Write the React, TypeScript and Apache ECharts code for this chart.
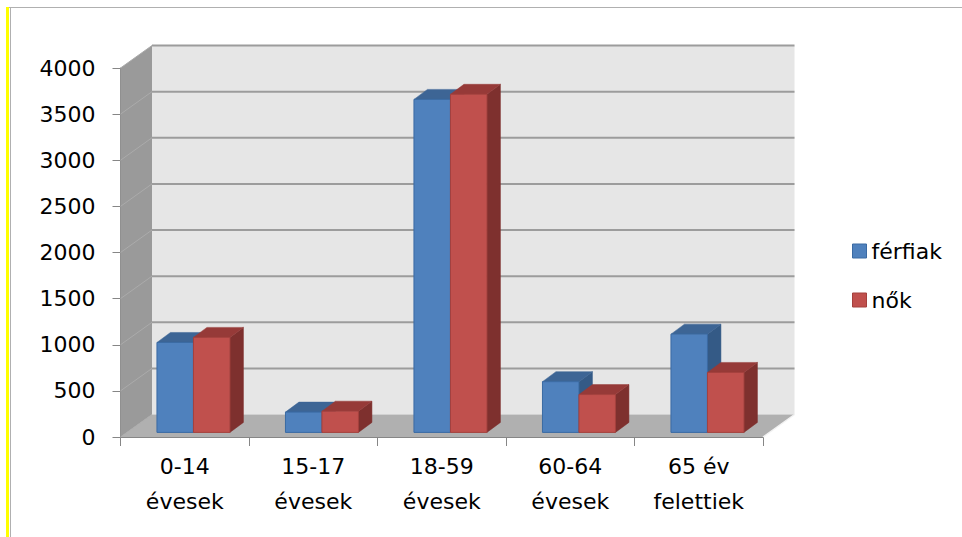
import React, { useEffect, useRef } from "react";
import * as echarts from "echarts";

const categories = ["0-14\névesek", "15-17\névesek", "18-59\névesek", "60-64\névesek", "65 év\nfelettiek"];
const ferfiak = [975, 220, 3610, 550, 1065];
const nok = [1030, 230, 3665, 410, 650];
const seriesNames = ["férfiak", "nők"];
const yMin = 0;
const yMax = 4000;
const yInterval = 500;
const yTicks = [0, 500, 1000, 1500, 2000, 2500, 3000, 3500, 4000];

const FONT = "DejaVu Sans";
const WALL_DX = 31.5;
const WALL_DY = -22.5;
const BAR_FX = 8.7;
const BAR_FY = -4.6;
const BAR_DX = 13.5;
const BAR_DY = -10;

const palettes = [
  { front: "#4F81BD", top: "#3D6595", side: "#345A86", stroke: "#3A6AA3" },
  { front: "#C0504D", top: "#963A38", side: "#7E302E", stroke: "#A4403D" },
];

function wallsRender(params: any, api: any) {
  const cs = params.coordSys;
  const x0 = cs.x;
  const x1 = cs.x + cs.width;
  const yTop = api.coord([0, yMax])[1];
  const yBot = api.coord([0, yMin])[1];
  const children: any[] = [];
  children.push({
    type: "polygon",
    shape: { points: [[x0 + WALL_DX, yTop + WALL_DY], [x1 + WALL_DX, yTop + WALL_DY], [x1 + WALL_DX, yBot + WALL_DY], [x0 + WALL_DX, yBot + WALL_DY]] },
    style: { fill: "#E6E6E6" },
  });
  children.push({
    type: "polygon",
    shape: { points: [[x0, yTop], [x0 + WALL_DX, yTop + WALL_DY], [x0 + WALL_DX, yBot + WALL_DY], [x0, yBot]] },
    style: { fill: "#9A9A9A" },
  });
  children.push({
    type: "polygon",
    shape: { points: [[x0, yBot], [x0 + WALL_DX, yBot + WALL_DY], [x1 + WALL_DX, yBot + WALL_DY], [x1, yBot]] },
    style: { fill: "#B0B0B0" },
  });
  yTicks.forEach((t) => {
    const y = api.coord([0, t])[1];
    if (t > yMin) {
      children.push({
        type: "line",
        shape: { x1: x0 + WALL_DX, y1: y + WALL_DY, x2: x1 + WALL_DX, y2: y + WALL_DY },
        style: { stroke: "#9C9C9C", lineWidth: 2 },
      });
    }
    children.push({
      type: "line",
      shape: { x1: x0, y1: y, x2: x0 + WALL_DX, y2: y + WALL_DY },
      style: { stroke: "#ABABAB", lineWidth: 1 },
    });
  });
  children.push({
    type: "line",
    shape: { x1: x1, y1: yBot, x2: x1 + WALL_DX, y2: yBot + WALL_DY },
    style: { stroke: "#F2F2F2", lineWidth: 1.5 },
  });
  return { type: "group", children };
}

function barRender(k: number) {
  const p = palettes[k];
  return (params: any, api: any) => {
    const idx = api.value(0);
    const val = api.value(1);
    const base = api.coord([idx, 0]);
    const top = api.coord([idx, val]);
    const bw = api.size([1, 0])[0];
    const w = bw * 0.284;
    const cx = base[0] + BAR_FX;
    const x = k === 0 ? cx - w : cx;
    const yb = base[1] + BAR_FY;
    const yt = top[1] + BAR_FY;
    return {
      type: "group",
      children: [
        {
          type: "polygon",
          shape: { points: [[x + w, yt], [x + w + BAR_DX, yt + BAR_DY], [x + w + BAR_DX, yb + BAR_DY], [x + w, yb]] },
          style: { fill: p.side, stroke: p.side, lineWidth: 0.5 },
        },
        {
          type: "polygon",
          shape: { points: [[x, yt], [x + BAR_DX, yt + BAR_DY], [x + w + BAR_DX, yt + BAR_DY], [x + w, yt]] },
          style: { fill: p.top, stroke: p.top, lineWidth: 0.5 },
        },
        {
          type: "rect",
          shape: { x: x, y: yt, width: w, height: yb - yt },
          style: { fill: p.front, stroke: p.stroke, lineWidth: 1 },
        },
      ],
    };
  };
}

export default function App() {
  const ref = useRef<HTMLDivElement>(null);
  useEffect(() => {
    if (!ref.current) return;
    const chart = echarts.init(ref.current, undefined, { renderer: "svg" });
    chart.setOption({
      animation: false,
      backgroundColor: "#ffffff",
      textStyle: { fontFamily: FONT },
      grid: { left: 120.5, top: 68, right: 199, bottom: 100, containLabel: false },
      legend: {
        orient: "vertical",
        left: 852,
        top: 240,
        padding: 0,
        itemWidth: 14,
        itemHeight: 14,
        itemGap: 27,
        textStyle: { fontFamily: FONT, fontSize: 22, color: "#000", lineHeight: 22 },
        data: [
          { name: seriesNames[0], icon: "rect", itemStyle: { color: palettes[0].front, borderColor: palettes[0].stroke, borderWidth: 1 } },
          { name: seriesNames[1], icon: "rect", itemStyle: { color: palettes[1].front, borderColor: palettes[1].stroke, borderWidth: 1 } },
        ],
      },
      xAxis: {
        type: "category",
        data: categories,
        boundaryGap: true,
        axisLine: { show: true, lineStyle: { color: "#868686", width: 1 } },
        axisTick: { show: true, length: 9, lineStyle: { color: "#868686" } },
        axisLabel: { fontFamily: FONT, fontSize: 22, color: "#000", lineHeight: 35, margin: 12, interval: 0 },
        splitLine: { show: false },
      },
      yAxis: {
        type: "value",
        min: yMin,
        max: yMax,
        interval: yInterval,
        axisLine: { show: true, lineStyle: { color: "#868686", width: 1 } },
        axisTick: { show: true, length: 8, lineStyle: { color: "#868686" } },
        axisLabel: { fontFamily: FONT, fontSize: 22, color: "#000", margin: 25, formatter: (v: number) => String(v) },
        splitLine: { show: false },
      },
      graphic: [
        { type: "rect", shape: { x: 6, y: 7, width: 3, height: 530 }, style: { fill: "#FFFF00" }, silent: true },
        { type: "line", shape: { x1: 10.5, y1: 7, x2: 10.5, y2: 537 }, style: { stroke: "#B0B0B0", lineWidth: 1 }, silent: true },
        { type: "line", shape: { x1: 9, y1: 7.5, x2: 962, y2: 7.5 }, style: { stroke: "#B0B0B0", lineWidth: 1 }, silent: true },
      ],
      series: [
        {
          type: "custom",
          name: "walls",
          z: 1,
          silent: true,
          renderItem: wallsRender,
          data: [[0, 0]],
        },
        {
          type: "custom",
          name: seriesNames[0],
          z: 2,
          itemStyle: { color: palettes[0].front },
          renderItem: barRender(0),
          data: ferfiak.map((v, i) => [i, v]),
        },
        {
          type: "custom",
          name: seriesNames[1],
          z: 3,
          itemStyle: { color: palettes[1].front },
          renderItem: barRender(1),
          data: nok.map((v, i) => [i, v]),
        },
      ],
    });
    return () => chart.dispose();
  }, []);
  return (
    <div style={{ position: "fixed", left: 0, top: 0, width: 962, height: 537, background: "#fff" }}>
      <div ref={ref} style={{ width: 962, height: 537 }} />
    </div>
  );
}
